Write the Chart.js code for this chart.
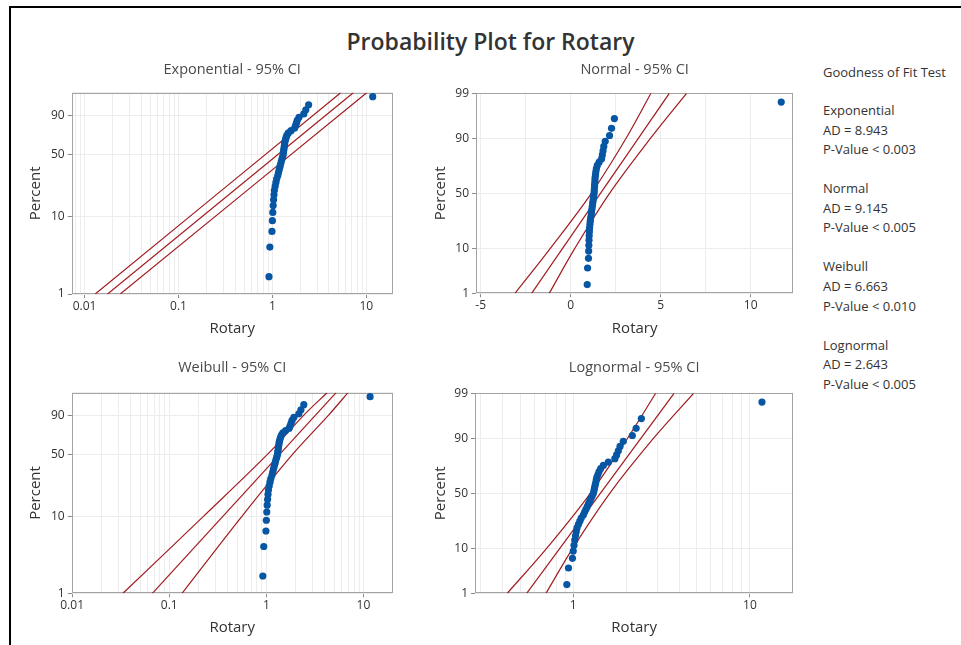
<!DOCTYPE html>
<html><head><meta charset="utf-8">
<script src="https://cdn.jsdelivr.net/npm/chart.js@4.4.1/dist/chart.umd.min.js"></script>
<style>
html,body{margin:0;padding:0;background:#fff;width:961px;height:645px;overflow:hidden;position:relative;font-family:"Open Sans",sans-serif;}
#frame{position:absolute;left:9px;top:6px;width:1200px;height:1000px;border-left:2px solid #000;border-top:2px solid #000;}
canvas.cv{position:absolute;}
#title{position:absolute;left:0;width:981px;top:26px;height:30px;line-height:30px;text-align:center;font-size:23px;font-weight:600;color:#333;}
.gof{position:absolute;left:823px;font-size:13px;color:#333;line-height:16px;white-space:nowrap;}
</style></head><body>
<div id="frame"></div>
<div id="title">Probability Plot for Rotary</div>
<script>
// ---------------- data ----------------
const rotary = [0.92,0.94,0.99,1.00,1.01,1.02,1.03,1.04,1.05,1.07,1.09,1.11,1.14,1.16,1.18,1.20,1.22,1.24,1.26,1.28,1.30,1.31,1.32,1.33,1.34,1.35,1.36,1.38,1.40,1.43,1.48,1.58,1.72,1.76,1.80,1.84,1.92,2.16,2.27,2.43,11.7];
const percent = [1.69,4.11,6.52,8.94,11.35,13.77,16.18,18.60,21.01,23.43,25.85,28.26,30.68,33.09,35.51,37.92,40.34,42.75,45.17,47.58,50.00,52.42,54.83,57.25,59.66,62.08,64.49,66.91,69.32,71.74,74.15,76.57,78.99,81.40,83.82,86.23,88.65,91.06,93.48,95.89,98.31];

// percent positions at which the fitted line and CI curves were read
const fitPct = [1, 99];
const ciPct = [1, 10, 50, 90, 99];

// Exponential panel (x values at fitPct)
const expFit = [0.0176, 7.27];
const expLower = [0.0130, 5.34];
const expUpper = [0.0240, 10.1];
// Normal panel
const normFit = [-2.17, 5.48];
const normLower = [-3.09, -1.13, 1.15, 3.08, 4.46];
const normUpper = [-1.19, 0.23, 2.16, 4.44, 6.44];
// Weibull panel
const weibFit = [0.067, 5.23];
const weibLower = [0.0334, 0.225, 1.02, 2.42, 4.22];
const weibUpper = [0.1355, 0.56, 1.85, 4.35, 6.93];
// Lognormal panel
const lognFit = [0.545, 3.72];
const lognLower = [0.423, 0.707, 1.25, 2.03, 2.93];
const lognUpper = [0.701, 0.993, 1.61, 2.85, 4.80];

// tick labels & grid positions
const pctGrid = [1, 10, 50, 90, 99];
const weibYLabels = [1, 10, 50, 90];
const normYLabels = [1, 10, 50, 90, 99];
const logGrid = [0.008,0.009,0.01,0.02,0.03,0.04,0.05,0.06,0.07,0.08,0.09,0.1,0.2,0.3,0.4,0.5,0.6,0.7,0.8,0.9,1,2,3,4,5,6,7,8,9,10];
const linGrid = [-5,-2.5,0,2.5,5,7.5,10];
const expXLabels = [0.01, 0.1, 1, 10];
const normXLabels = [-5, 0, 5, 10];
const weibXLabels = [0.01, 0.1, 1, 10];
const lognXLabels = [1, 10];

const gofLines = [
  ['Goodness of Fit Test', 72],
  ['Exponential', 110], ['AD = 8.943', 130], ['P-Value < 0.003', 149],
  ['Normal', 188], ['AD = 9.145', 208], ['P-Value < 0.005', 227],
  ['Weibull', 266], ['AD = 6.663', 286], ['P-Value < 0.010', 306],
  ['Lognormal', 345], ['AD = 2.643', 364], ['P-Value < 0.005', 384]
];

// ---------------- probability scales ----------------
function normInv(p){
  const a=[-3.969683028665376e+01,2.209460984245205e+02,-2.759285104469687e+02,1.383577518672690e+02,-3.066479806614716e+01,2.506628277459239e+00];
  const b=[-5.447609879822406e+01,1.615858368580409e+02,-1.556989798598866e+02,6.680131188771972e+01,-1.328068155288572e+01];
  const c=[-7.784894002430293e-03,-3.223964580411365e-01,-2.400758277161838e+00,-2.549732539343734e+00,4.374664141464968e+00,2.938163982698783e+00];
  const d=[7.784695709041462e-03,3.224671290700398e-01,2.445134137142996e+00,3.754408661907416e+00];
  const pl=0.02425, ph=1-pl; let q,r;
  if(p<pl){q=Math.sqrt(-2*Math.log(p));return (((((c[0]*q+c[1])*q+c[2])*q+c[3])*q+c[4])*q+c[5])/((((d[0]*q+d[1])*q+d[2])*q+d[3])*q+1);}
  if(p<=ph){q=p-0.5;r=q*q;return (((((a[0]*r+a[1])*r+a[2])*r+a[3])*r+a[4])*r+a[5])*q/(((((b[0]*r+b[1])*r+b[2])*r+b[3])*r+b[4])*r+1);}
  q=Math.sqrt(-2*Math.log(1-p));return -(((((c[0]*q+c[1])*q+c[2])*q+c[3])*q+c[4])*q+c[5])/((((d[0]*q+d[1])*q+d[2])*q+d[3])*q+1);
}
function normCdf(z){
  const t=1/(1+0.2316419*Math.abs(z)); const dd=0.3989423*Math.exp(-z*z/2);
  const pr=dd*t*(0.3193815+t*(-0.3565638+t*(1.781478+t*(-1.821256+t*1.330274))));
  return z>0?1-pr:pr;
}
class ProbScaleBase extends Chart.Scale {
  parse(raw){ if(raw===null||raw===undefined) return null; const v=+raw; return isFinite(v)?v:null; }
  determineDataLimits(){ this.min=this.options.min; this.max=this.options.max; }
  buildTicks(){ return []; }
  getLabelForValue(v){ return String(v); }
  configure(){ super.configure(); this._s=this.fwd(this.min/100); this._r=this.fwd(this.max/100)-this._s; }
  getPixelForValue(v){ if(v===null||v===undefined||isNaN(v)) return NaN; return this.getPixelForDecimal((this.fwd(v/100)-this._s)/this._r); }
  getValueForPixel(px){ return 100*this.inv(this._s+this.getDecimalForPixel(px)*this._r); }
}
class NormProbScale extends ProbScaleBase { fwd(p){return normInv(p);} inv(z){return normCdf(z);} }
NormProbScale.id='normprob'; NormProbScale.defaults={};
class WeibProbScale extends ProbScaleBase { fwd(p){return Math.log(-Math.log(1-p));} inv(w){return 1-Math.exp(-Math.exp(w));} }
WeibProbScale.id='weibprob'; WeibProbScale.defaults={};
Chart.register(NormProbScale, WeibProbScale);

Chart.defaults.font.family = "'Open Sans', sans-serif";
const BLUE = '#0756A3', RED = '#A01D22', GRID = '#EDEDED', FRAME = '#A3A3A3', TICKC = '#8C8C8C', TXT = '#333333';

const framePlugin = {
  id: 'frameBox',
  beforeDatasetsDraw(chart){
    const {ctx, chartArea:a} = chart;
    ctx.save(); ctx.strokeStyle = FRAME; ctx.lineWidth = 1;
    const l=Math.round(a.left)+0.5, t=Math.round(a.top)+0.5, r=Math.round(a.right)-0.5, b=Math.round(a.bottom)-0.5;
    ctx.strokeRect(l, t, r-l, b-t); ctx.restore();
  }
};

function makePanel(P){
  const [bl,bt,bw,bh] = P.box, [al,at,ar,ab] = P.area;
  const cv = document.createElement('canvas'); cv.className='cv';
  cv.width=bw; cv.height=bh; cv.style.left=bl+'px'; cv.style.top=bt+'px'; cv.style.width=bw+'px'; cv.style.height=bh+'px';
  document.body.appendChild(cv);
  const tSize=14.5, tLH=tSize*1.2, tPadTop=P.titleY-bt-tLH/2, tPadBot=(at-bt)-tLH-tPadTop;
  const aSize=15, aLH=18;
  const line = (xs, ps, lbl, tension) => ({label:lbl, data: xs.map((x,i)=>({x, y:ps[i]})), showLine:true, pointRadius:0, borderColor:RED, borderWidth:1.2, tension:tension, fill:false});
  const datasets = [
    {label:'Rotary', data: rotary.map((x,i)=>({x, y:percent[i]})), showLine:false, pointRadius:3.6, pointBorderWidth:0, pointBackgroundColor:BLUE, backgroundColor:BLUE},
    line(P.fit, fitPct, 'Fit', 0),
    line(P.lower, P.ciP, 'Lower', 0.35),
    line(P.upper, P.ciP, 'Upper', 0.35)
  ];
  const xScale = {
    type: P.xType, position:'bottom', min:P.xMin, max:P.xMax, bounds:'data',
    afterBuildTicks: s => { s.ticks = P.xGrid.filter(v => v>=P.xMin && v<=P.xMax).map(v => ({value:v})); },
    afterFit: s => { s.height = (bt+bh) - ab; },
    ticks: { autoSkip:false, maxRotation:0, minRotation:0, padding:1, font:{size:12}, color:TXT,
             callback: v => P.xLabels.includes(v) ? String(v) : '' },
    grid: { color: GRID, lineWidth:1, tickLength:4, tickColor: c => (c.tick && P.xLabels.includes(c.tick.value)) ? TICKC : 'rgba(0,0,0,0)' },
    border: { display:false },
    title: { display:true, text:'Rotary', font:{size:aSize}, color:TXT, padding:{top:0, bottom:(bt+bh)-P.xTitleY-aLH/2} }
  };
  const yScale = {
    type: P.yType, position:'left', min:1, max:99,
    afterBuildTicks: s => { s.ticks = pctGrid.map(v => ({value:v})); },
    afterFit: s => { s.width = al - bl; },
    ticks: { autoSkip:false, padding:3, font:{size:12}, color:TXT,
             callback: v => P.yLabels.includes(v) ? String(v) : '' },
    grid: { color: GRID, lineWidth:1, tickLength:4, tickColor: c => (c.tick && P.yLabels.includes(c.tick.value)) ? TICKC : 'rgba(0,0,0,0)' },
    border: { display:false },
    title: { display:true, text:'Percent', font:{size:aSize}, color:TXT, padding:{top:P.yTitleX-bl-aLH/2, bottom:0} }
  };
  new Chart(cv, {
    type:'scatter',
    data:{datasets},
    options:{
      responsive:false, animation:false, devicePixelRatio:1, events:[],
      layout:{ padding:{ left:0, top:0, right:(bl+bw)-ar, bottom:0 } },
      plugins:{ legend:{display:false}, tooltip:{enabled:false},
        title:{ display:true, text:P.title, fullSize:false, font:{size:tSize, weight:'normal'}, color:'#4A4A4A', padding:{top:tPadTop, bottom:tPadBot} } },
      scales:{ x:xScale, y:yScale }
    },
    plugins:[framePlugin]
  });
}

makePanel({ title:'Exponential - 95% CI', box:[14,50,426,300], area:[71.7,92.7,392.7,294], titleY:70, yTitleX:36, xTitleY:328.5,
  xType:'logarithmic', xMin:0.0073, xMax:19.1, xGrid:logGrid, xLabels:expXLabels, yType:'weibprob', yLabels:weibYLabels,
  fit:expFit, lower:expLower, upper:expUpper, ciP:fitPct });
makePanel({ title:'Normal - 95% CI', box:[400,50,420,300], area:[476,93.3,793.3,293.3], titleY:70, yTitleX:440.7, xTitleY:328.5,
  xType:'linear', xMin:-5.26, xMax:12.37, xGrid:linGrid, xLabels:normXLabels, yType:'normprob', yLabels:normYLabels,
  fit:normFit, lower:normLower, upper:normUpper, ciP:ciPct });
makePanel({ title:'Weibull - 95% CI', box:[14,350,426,295], area:[71.7,392.7,392.7,593.3], titleY:368, yTitleX:36, xTitleY:628,
  xType:'logarithmic', xMin:0.0099, xMax:20, xGrid:logGrid, xLabels:weibXLabels, yType:'weibprob', yLabels:weibYLabels,
  fit:weibFit, lower:weibLower, upper:weibUpper, ciP:ciPct });
makePanel({ title:'Lognormal - 95% CI', box:[400,350,420,295], area:[475,393.3,793.3,593.3], titleY:368, yTitleX:440.7, xTitleY:628,
  xType:'logarithmic', xMin:0.278, xMax:17.6, xGrid:logGrid, xLabels:lognXLabels, yType:'normprob', yLabels:normYLabels,
  fit:lognFit, lower:lognLower, upper:lognUpper, ciP:ciPct });

for (const [txt, y] of gofLines) {
  const d = document.createElement('div'); d.className='gof'; d.textContent = txt; d.style.top = (y-8)+'px';
  document.body.appendChild(d);
}
</script>
</body></html>
